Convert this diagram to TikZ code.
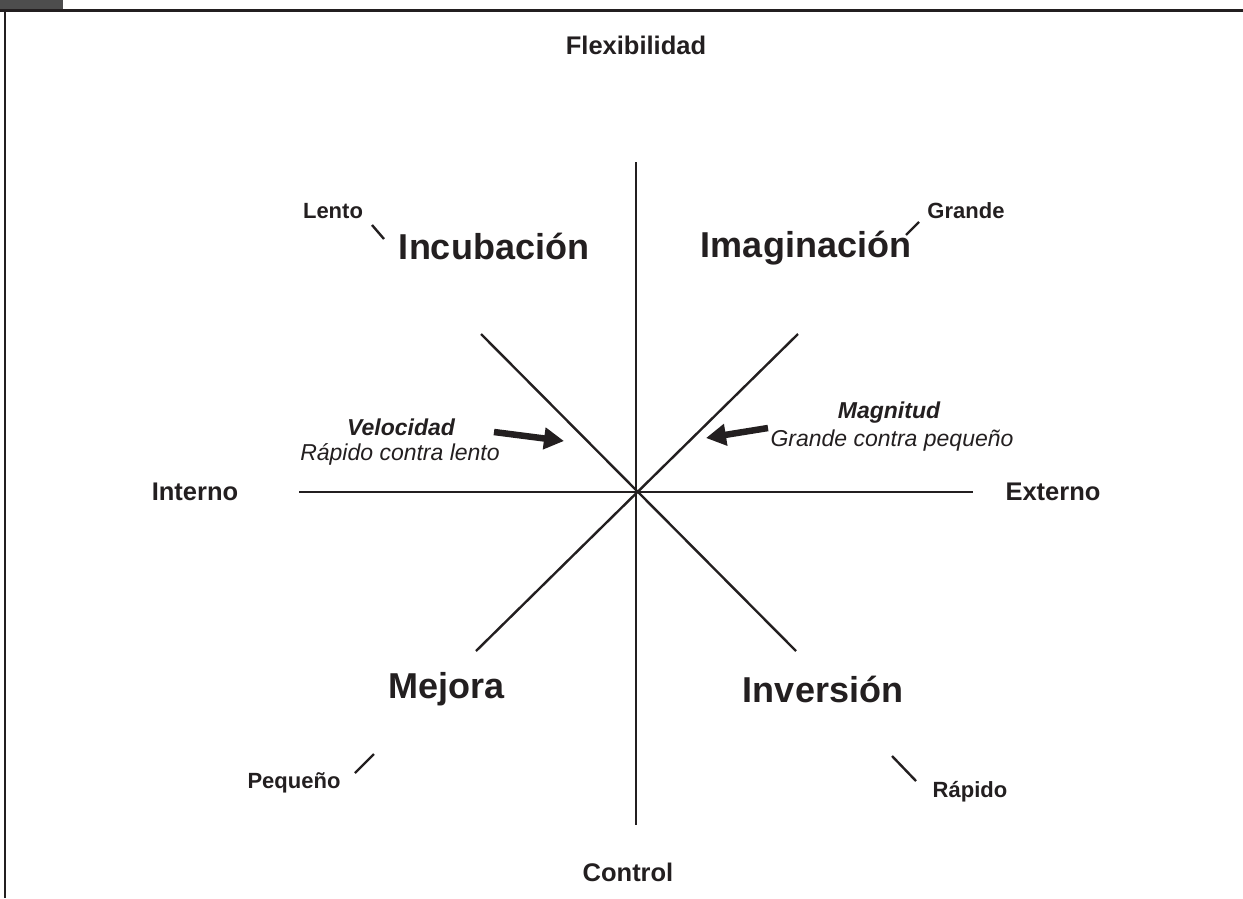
\documentclass[tikz,border=0pt]{standalone}
\usepackage{fontspec}
\setmainfont{Liberation Sans}
\usetikzlibrary{arrows.meta}
\definecolor{ink}{HTML}{231F20}
\definecolor{hdr}{HTML}{4D4D4D}
\tikzset{
  axislbl/.style={font=\bfseries\fontsize{25.5}{30}\selectfont, text=ink, inner sep=0pt},
  quad/.style={font=\bfseries\fontsize{36}{43}\selectfont, text=ink, inner sep=0pt},
  endlbl/.style={font=\bfseries\fontsize{22}{26}\selectfont, text=ink, inner sep=0pt},
  dimtitle/.style={font=\bfseries\itshape\fontsize{23}{27}\selectfont, text=ink, inner sep=0pt},
  dimsub/.style={font=\itshape\fontsize{23}{27}\selectfont, text=ink, inner sep=0pt},
  axisline/.style={draw=ink, line width=2.8pt},
  diagline/.style={draw=ink, line width=2.4pt},
  tick/.style={draw=ink, line width=2.4pt},
  bigarrow/.style={draw=ink, line width=6.5pt, -{Triangle[length=20pt,width=21pt]}},
  frameline/.style={draw=ink, line width=2.7pt}
}
\begin{document}
\begin{tikzpicture}[x=1pt,y=-1pt]
\useasboundingbox (0,0) rectangle (1243,898);
% header
\fill[hdr] (0,0) rectangle (63,9.5);
\draw[frameline] (0,10.7) -- (1243,10.7);
\draw[frameline] (5,10.7) -- (5,898);
% axes
\coordinate (O) at (636,492);
\coordinate (top) at (636,162);
\coordinate (bot) at (636,825);
\coordinate (lft) at (299,492);
\coordinate (rgt) at (973,492);
\coordinate (nw) at (481,334);
\coordinate (se) at (796,651);
\coordinate (ne) at (798,334);
\coordinate (sw) at (476,651);
\draw[axisline] (top) -- (bot);
\draw[axisline] (lft) -- (rgt);
\draw[diagline] (nw) -- (se);
\draw[diagline] (ne) -- (sw);
% axis labels
\node[axislbl] (flex) at (636,45) {Flexibilidad};
\node[axislbl] (ctrl) at (628,872) {Control};
\node[axislbl] (int) at (195,492) {Interno};
\node[axislbl] (ext) at (1053,492) {Externo};
% quadrants
\node[quad] (incub) at (494,246) {Incubación};
\node[quad] (imag) at (806,248) {Imaginación};
\node[quad] (mej) at (447,689) {Mejora};
\node[quad] (inv) at (823,689) {Inversión};
% end labels and ticks
\node[endlbl] (lento) at (333,211) {Lento};
\node[endlbl] (grande) at (966,211) {Grande};
\node[endlbl] (peq) at (294,783) {Pequeño};
\node[endlbl] (rap) at (970,792) {Rápido};
\coordinate (t1a) at (372,225); \coordinate (t1b) at (384,239);
\coordinate (t2a) at (906,235); \coordinate (t2b) at (919,222);
\coordinate (t3a) at (355,773); \coordinate (t3b) at (374,754);
\coordinate (t4a) at (892,756); \coordinate (t4b) at (916,781);
\draw[tick] (t1a) -- (t1b);
\draw[tick] (t2a) -- (t2b);
\draw[tick] (t3a) -- (t3b);
\draw[tick] (t4a) -- (t4b);
% dimension labels
\node[dimtitle] (vel) at (401,427) {Velocidad};
\node[dimsub] (velsub) at (400,454) {Rápido contra lento};
\node[dimtitle] (mag) at (889,413) {Magnitud};
\node[dimsub] (magsub) at (892,441) {Grande contra pequeño};
\coordinate (a1s) at (494,432); \coordinate (a1e) at (564,441);
\coordinate (a2s) at (768,428); \coordinate (a2e) at (706,438);
\draw[bigarrow] (a1s) -- (a1e);
\draw[bigarrow] (a2s) -- (a2e);
\end{tikzpicture}
\end{document}
